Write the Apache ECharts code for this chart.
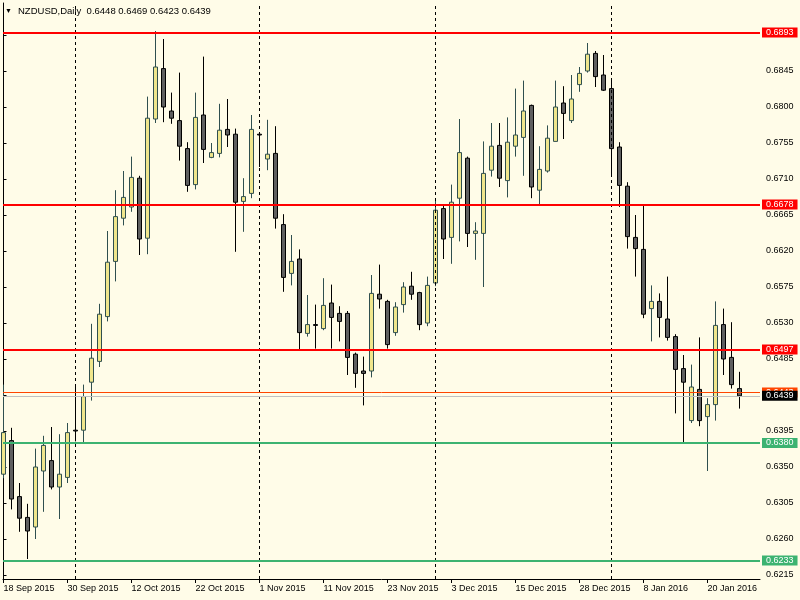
<!DOCTYPE html>
<html><head><meta charset="utf-8">
<script src="https://cdn.jsdelivr.net/npm/echarts@6/dist/echarts.min.js"></script>
<style>html,body{margin:0;padding:0;background:#FFFCE8;}#c{width:800px;height:600px;}</style>
</head><body><div id="c"></div>
<script>
const dates = ['18 Sep 2015','21 Sep 2015','22 Sep 2015','23 Sep 2015','24 Sep 2015','25 Sep 2015','28 Sep 2015','29 Sep 2015','30 Sep 2015',
'1 Oct 2015','2 Oct 2015','5 Oct 2015','6 Oct 2015','7 Oct 2015','8 Oct 2015','9 Oct 2015','12 Oct 2015','13 Oct 2015','14 Oct 2015','15 Oct 2015','16 Oct 2015','19 Oct 2015','20 Oct 2015','21 Oct 2015','22 Oct 2015','23 Oct 2015','25 Oct 2015','26 Oct 2015','27 Oct 2015','28 Oct 2015','29 Oct 2015','30 Oct 2015',
'1 Nov 2015','2 Nov 2015','3 Nov 2015','4 Nov 2015','5 Nov 2015','6 Nov 2015','9 Nov 2015','10 Nov 2015','11 Nov 2015','12 Nov 2015','13 Nov 2015','16 Nov 2015','17 Nov 2015','18 Nov 2015','19 Nov 2015','20 Nov 2015','23 Nov 2015','24 Nov 2015','25 Nov 2015','26 Nov 2015','27 Nov 2015','30 Nov 2015',
'1 Dec 2015','2 Dec 2015','3 Dec 2015','4 Dec 2015','7 Dec 2015','8 Dec 2015','9 Dec 2015','10 Dec 2015','11 Dec 2015','14 Dec 2015','15 Dec 2015','16 Dec 2015','17 Dec 2015','18 Dec 2015','21 Dec 2015','22 Dec 2015','23 Dec 2015','24 Dec 2015','28 Dec 2015','29 Dec 2015','30 Dec 2015','31 Dec 2015',
'4 Jan 2016','5 Jan 2016','6 Jan 2016','7 Jan 2016','8 Jan 2016','11 Jan 2016','12 Jan 2016','13 Jan 2016','14 Jan 2016','15 Jan 2016','18 Jan 2016','19 Jan 2016','20 Jan 2016','21 Jan 2016','22 Jan 2016','25 Jan 2016','26 Jan 2016'];

const open = [0.6341,0.6383,0.6313,0.6287,0.6275,0.6345,0.6358,0.6325,0.6337,0.6396,
0.6396,0.6456,0.6482,0.6538,0.6607,0.6661,0.6675,0.6711,0.6636,0.6785,
0.6848,0.6795,0.6783,0.6748,0.6703,0.6790,0.6737,0.6742,0.6772,0.6766,
0.6682,0.6692,0.6766,0.6735,0.6742,0.6653,0.6592,0.6610,0.6517,0.6528,
0.6523,0.6555,0.6542,0.6542,0.6491,0.6470,0.6470,0.6566,0.6557,0.6518,
0.6553,0.6576,0.6568,0.6530,0.6580,0.6673,0.6637,0.6686,0.6736,0.6642,
0.6642,0.6721,0.6752,0.6708,0.6751,0.6762,0.6802,0.6696,0.6720,0.6757,
0.6805,0.6783,0.6828,0.6845,0.6867,0.6840,0.6823,0.6750,0.6701,0.6637,
0.6622,0.6548,0.6557,0.6535,0.6513,0.6473,0.6408,0.6447,0.6413,0.6428,
0.6528,0.6487,0.6448];
const high = [0.6453,0.6399,0.6330,0.6304,0.6373,0.6389,0.6400,0.6391,0.6405,0.6450,
0.6453,0.6529,0.6554,0.6645,0.6696,0.6720,0.6738,0.6714,0.6813,0.6895,
0.6885,0.6818,0.6843,0.6756,0.6818,0.6863,0.6755,0.6804,0.6810,0.6773,
0.6711,0.6790,0.6766,0.6784,0.6776,0.6666,0.6640,0.6622,0.6565,0.6553,
0.6586,0.6578,0.6551,0.6545,0.6493,0.6488,0.6590,0.6603,0.6559,0.6556,
0.6581,0.6594,0.6569,0.6588,0.6686,0.6677,0.6703,0.6785,0.6738,0.6656,
0.6757,0.6780,0.6780,0.6787,0.6823,0.6833,0.6803,0.6751,0.6777,0.6833,
0.6826,0.6840,0.6850,0.6880,0.6870,0.6865,0.6833,0.6756,0.6706,0.6665,
0.6677,0.6577,0.6567,0.6588,0.6516,0.6490,0.6478,0.6512,0.6436,0.6557,
0.6548,0.6531,0.6469];
const low = [0.6336,0.6297,0.6269,0.6235,0.6260,0.6294,0.6322,0.6285,0.6330,0.6382,
0.6380,0.6433,0.6475,0.6532,0.6582,0.6652,0.6669,0.6615,0.6616,0.6780,
0.6781,0.6779,0.6733,0.6694,0.6697,0.6730,0.6736,0.6737,0.6750,0.6619,
0.6644,0.6686,0.6725,0.6721,0.6648,0.6569,0.6577,0.6497,0.6513,0.6498,
0.6521,0.6498,0.6507,0.6465,0.6449,0.6427,0.6462,0.6548,0.6498,0.6514,
0.6543,0.6559,0.6521,0.6526,0.6576,0.6610,0.6604,0.6632,0.6625,0.6609,
0.6575,0.6713,0.6700,0.6687,0.6738,0.6714,0.6686,0.6678,0.6718,0.6757,
0.6760,0.6780,0.6819,0.6843,0.6825,0.6820,0.6716,0.6675,0.6623,0.6588,
0.6536,0.6507,0.6512,0.6508,0.6417,0.6380,0.6405,0.6401,0.6345,0.6408,
0.6465,0.6448,0.6423];
const close = [0.6393,0.6310,0.6286,0.6270,0.6350,0.6377,0.6325,0.6341,0.6393,0.6395,
0.6438,0.6486,0.6541,0.6606,0.6663,0.6687,0.6712,0.6635,0.6786,0.6850,
0.6800,0.6786,0.6751,0.6702,0.6787,0.6747,0.6743,0.6771,0.6765,0.6681,
0.6688,0.6772,0.6765,0.6741,0.6661,0.6587,0.6607,0.6518,0.6528,0.6527,
0.6552,0.6537,0.6532,0.6487,0.6467,0.6467,0.6567,0.6560,0.6503,0.6550,
0.6575,0.6566,0.6528,0.6577,0.6671,0.6635,0.6681,0.6743,0.6642,0.6645,
0.6717,0.6751,0.6711,0.6756,0.6765,0.6795,0.6700,0.6722,0.6761,0.6800,
0.6792,0.6810,0.6842,0.6866,0.6838,0.6821,0.6748,0.6702,0.6638,0.6623,
0.6541,0.6557,0.6537,0.6512,0.6472,0.6456,0.6450,0.6408,0.6428,0.6527,
0.6485,0.6453,0.6439];

const resistance = [0.6893, 0.6678, 0.6497];
const support = [0.6380, 0.6233];
const markerLevel = 0.6443;
const bidLevel = 0.6439;
const yTicks = [0.6215,0.6260,0.6305,0.6350,0.6395,0.6440,0.6485,0.6530,0.6575,0.6620,0.6665,0.6710,0.6755,0.6800,0.6845,0.6890];
const xLabelIdx = [0,8,16,24,32,40,48,56,64,72,80,88];
const symbolName = 'NZDUSD,Daily';

const FONT = 'Liberation Sans';
const candles = dates.map((d, i) => [i, open[i], close[i], low[i], high[i]]);
const monthStarts = [];
for (let i = 1; i < dates.length; i++) {
  if (dates[i].split(' ')[1] !== dates[i - 1].split(' ')[1]) monthStarts.push(i);
}
const n = dates.length - 1;
const ohlcText = [open[n], high[n], low[n], close[n]].map(v => v.toFixed(4)).join(' ');

function levelLine(v, color, width) {
  return {
    yAxis: v,
    lineStyle: { color: color, width: width, type: 'solid' },
    label: {
      show: true, position: 'end', distance: 2,
      formatter: p => Number(p.value).toFixed(4),
      backgroundColor: color, color: '#ffffff',
      fontFamily: FONT, fontSize: 9, lineHeight: 10,
      padding: [0, 4, 0, 4]
    }
  };
}

const markData = [];
monthStarts.forEach(i => markData.push({
  xAxis: i, lineStyle: { color: '#000', width: 1, type: [3, 3] }, label: { show: false }
}));
resistance.forEach(v => markData.push(levelLine(v, '#ff0000', 2)));
support.forEach(v => markData.push(levelLine(v, '#3cb371', 2)));
markData.push(levelLine(markerLevel, '#ff4500', 1));
const bid = levelLine(bidLevel, '#000000', 1);
bid.lineStyle.color = '#c0c0c0';
markData.push(bid);

const chart = echarts.init(document.getElementById('c'), null, { renderer: 'canvas' });
chart.setOption({
  animation: false,
  backgroundColor: '#FFFCE8',
  title: {
    left: 5, top: 6, padding: 0,
    text: '{t|▼}' + symbolName + '  ' + ohlcText,
    textStyle: {
      fontFamily: FONT, fontSize: 9.5, fontWeight: 'normal', color: '#000',
      rich: { t: { fontSize: 7, width: 13, color: '#000' } }
    }
  },
  grid: { left: 3, right: 40, top: 3, bottom: 21 },
  xAxis: {
    type: 'value', min: -0.0625, max: 94.5625,
    splitLine: { show: false },
    axisLine: { show: true, lineStyle: { color: '#000', width: 1 } },
    axisTick: { show: true, customValues: xLabelIdx, length: 4, lineStyle: { color: '#000' } },
    axisLabel: {
      customValues: xLabelIdx, formatter: v => dates[Math.round(v)],
      align: 'left', margin: 5, color: '#000', fontFamily: FONT, fontSize: 9
    }
  },
  yAxis: {
    type: 'value', position: 'right', min: 0.6210, max: 0.6930,
    splitLine: { show: false },
    axisLine: { show: true, lineStyle: { color: '#000', width: 1 } },
    axisTick: { show: true, customValues: yTicks, length: 3, lineStyle: { color: '#000' } },
    axisLabel: {
      customValues: yTicks, formatter: v => v.toFixed(4),
      margin: 6, color: '#000', fontFamily: FONT, fontSize: 9
    }
  },
  series: [{
    type: 'candlestick',
    data: candles,
    barWidth: 4,
    itemStyle: {
      color: '#F0E68C', color0: '#5F5F5F',
      borderColor: '#2F4F4F', borderColor0: '#000000', borderWidth: 1
    },
    markLine: {
      silent: true, symbol: ['none', 'none'], animation: false, precision: 4,
      data: markData
    }
  }]
});
</script></body></html>
